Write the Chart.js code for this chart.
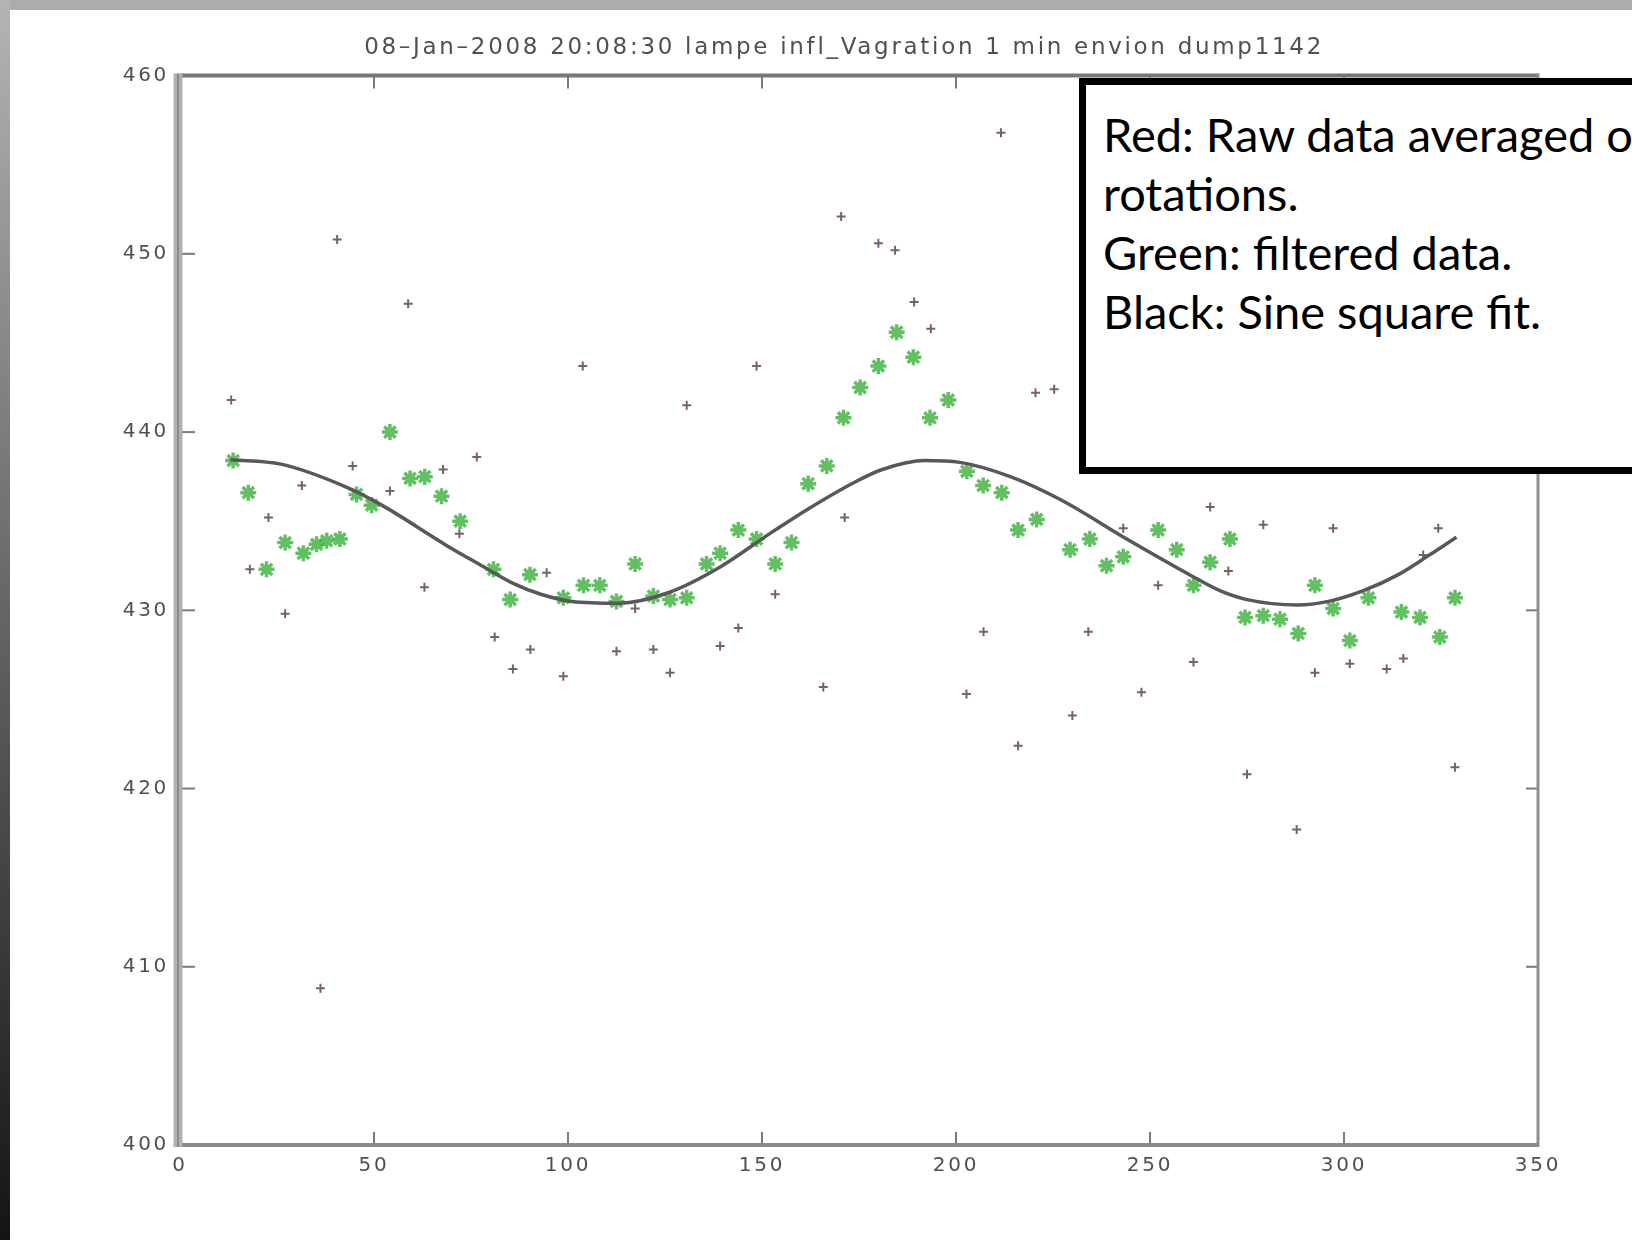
<!DOCTYPE html>
<html><head><meta charset="utf-8">
<script src="https://cdn.jsdelivr.net/npm/chart.js@4.4.1/dist/chart.umd.min.js"></script>
<style>
html,body{margin:0;padding:0;width:1632px;height:1240px;overflow:hidden;background:#fff;}
#topband{position:absolute;left:0;top:0;width:1632px;height:10px;background:#acacac;}
#leftband{position:absolute;left:0;top:0;width:10px;height:1240px;background:linear-gradient(#b4b4b4,#6c6c6c 45%,#141414);}
#wrap{position:absolute;left:0;top:0;width:1632px;height:1240px;}
#note{position:absolute;left:1079px;top:78px;width:700px;height:396px;box-sizing:border-box;border:7px solid #000;background:#fff;
 font-family:Lato,"Noto Sans",sans-serif;font-size:47px;line-height:59px;color:#000;padding:20px 0 0 17px;white-space:nowrap;}
</style></head>
<body>
<div id="topband"></div><div id="leftband"></div>
<div id="wrap"><canvas id="c" width="1632" height="1240"></canvas></div>
<div id="note">Red: Raw data averaged on<br>rotations.<br>Green: filtered data.<br>Black: Sine square fit.</div>
<script>
const titleText = "08\u2013Jan\u20132008 20:08:30 lampe infl_Vagration 1 min envion dump1142";
const titleIndent = 15; // leading spaces to shift the centred title over the axes
const xMin = 0, xMax = 350, xStep = 50;
const yMin = 400, yMax = 460, yStep = 10;

// Red: raw data averaged on rotations
const rawX = [13.2,18.0,22.8,27.1,31.4,36.2,40.5,44.5,54.1,58.8,63.0,67.8,72.0,76.5,81.1,85.8,90.3,94.5,98.8,103.8,112.5,117.3,122.0,126.3,130.6,139.2,143.9,148.6,153.4,165.8,170.4,171.3,180.0,184.3,189.2,193.5,202.7,207.1,211.6,216.0,220.5,225.3,230.0,234.1,243.1,247.8,252.1,261.2,265.5,270.2,275.0,279.2,287.8,292.5,297.2,301.5,311.0,315.3,320.4,324.3,328.6];
const rawY = [441.8,432.3,435.2,429.8,437.0,408.8,450.8,438.1,436.7,447.2,431.3,437.9,434.3,438.6,428.5,426.7,427.8,432.1,426.3,443.7,427.7,430.1,427.8,426.5,441.5,428.0,429.0,443.7,430.9,425.7,452.1,435.2,450.6,450.2,447.3,445.8,425.3,428.8,456.8,422.4,442.2,442.4,424.1,428.8,434.6,425.4,431.4,427.1,435.8,432.2,420.8,434.8,417.7,426.5,434.6,427.0,426.7,427.3,433.1,434.6,421.2];

// Green: filtered data
const filtX = [13.7,17.6,22.3,27.1,31.8,35.2,37.8,41.2,45.5,49.4,54.1,59.3,63.1,67.4,72.2,80.8,85.1,90.2,98.8,104.0,108.2,112.5,117.3,122.0,126.3,130.6,135.7,139.2,143.9,148.6,153.4,157.6,161.9,166.7,171.0,175.3,180.0,184.7,189.0,193.3,198.0,202.8,207.0,211.8,216.0,220.8,229.4,234.5,238.8,243.1,252.1,256.9,261.2,265.5,270.6,274.5,279.2,283.5,288.2,292.5,297.2,301.5,306.3,314.8,319.6,324.7,328.6];
const filtY = [438.4,436.6,432.3,433.8,433.2,433.7,433.9,434.0,436.5,435.9,440.0,437.4,437.5,436.4,435.0,432.3,430.6,432.0,430.7,431.4,431.4,430.5,432.6,430.8,430.6,430.7,432.6,433.2,434.5,434.0,432.6,433.8,437.1,438.1,440.8,442.5,443.7,445.6,444.2,440.8,441.8,437.8,437.0,436.6,434.5,435.1,433.4,434.0,432.5,433.0,434.5,433.4,431.4,432.7,434.0,429.6,429.7,429.5,428.7,431.4,430.1,428.3,430.7,429.9,429.6,428.5,430.7];

// Black: sine square fit
const fitX = [13,26,43,52,69,77,86,93,101,113,126,139,152,162,174,181,192,201,214,227,244,261,268,275,288,296,305,314,322,329];
const fitY = [438.45,438.2,436.9,435.9,433.6,432.6,431.5,430.9,430.5,430.4,431.0,432.4,434.3,435.7,437.2,437.9,438.4,438.3,437.5,436.2,434.0,431.9,431.1,430.6,430.3,430.5,431.1,432.0,433.1,434.1];

const pts = (xs, ys) => xs.map((v, i) => ({x: v, y: ys[i]}));

const spacingPlugin = {
  id: 'spacing',
  beforeDraw(chart) { chart.ctx.letterSpacing = '2.7px'; },
  afterDraw(chart) { chart.ctx.letterSpacing = '0px'; }
};

const framePlugin = {
  id: 'frame',
  afterDraw(chart) {
    const {ctx, chartArea: a, scales: {x, y}} = chart;
    const seg = (x1, y1, x2, y2) => { ctx.beginPath(); ctx.moveTo(x1, y1); ctx.lineTo(x2, y2); ctx.stroke(); };
    ctx.save();
    ctx.strokeStyle = '#7a7a7a'; ctx.lineWidth = 2;
    x.ticks.forEach(t => {
      if (t.value <= x.min || t.value >= x.max) return;
      const p = x.getPixelForValue(t.value);
      seg(p, a.top, p, a.top + 13);
      seg(p, a.bottom, p, a.bottom - 13);
    });
    y.ticks.forEach(t => {
      if (t.value <= y.min || t.value >= y.max) return;
      const p = y.getPixelForValue(t.value);
      seg(a.left, p, a.left + 15, p);
      seg(a.right, p, a.right - 12, p);
    });
    ctx.lineCap = 'butt';
    ctx.strokeStyle = '#777'; ctx.lineWidth = 4; seg(a.left, a.top, a.right + 1, a.top);
    ctx.strokeStyle = '#8a8a8a'; ctx.lineWidth = 4; seg(a.left, a.bottom, a.right + 1, a.bottom);
    ctx.strokeStyle = '#8e8e8e'; ctx.lineWidth = 3; seg(a.right, a.top - 2, a.right, a.bottom + 2);
    ctx.strokeStyle = '#b0b0b0'; ctx.lineWidth = 9; seg(a.left - 2, a.top - 2, a.left - 2, a.bottom + 2);
    ctx.strokeStyle = '#8c8c8c'; ctx.lineWidth = 2; seg(a.left - 2, a.top - 2, a.left - 2, a.bottom + 2);
    ctx.restore();
  }
};

new Chart(document.getElementById('c'), {
  type: 'scatter',
  data: {
    datasets: [
      {label: 'fit', data: pts(fitX, fitY), showLine: true, borderColor: '#585858', borderWidth: 3.5,
       pointRadius: 0, cubicInterpolationMode: 'monotone', order: 0},
      {label: 'filtered', data: pts(filtX, filtY), pointStyle: 'star', pointRadius: 8,
       borderColor: 'rgba(70,180,70,0.85)', backgroundColor: 'rgba(70,180,70,0.85)', pointBorderWidth: 3.5, order: 1},
      {label: 'raw', data: pts(rawX, rawY), pointStyle: 'cross', pointRadius: 4.5,
       borderColor: 'rgba(105,80,88,0.9)', backgroundColor: 'rgba(105,80,88,0.9)', pointBorderWidth: 2, order: 2}
    ]
  },
  options: {
    responsive: false, animation: false, devicePixelRatio: 1,
    layout: {padding: {left: 0, right: 94, top: 0, bottom: 0}},
    plugins: {
      legend: {display: false}, tooltip: {enabled: false},
      title: {display: true, text: ' '.repeat(titleIndent) + titleText, color: '#505050',
        font: {family: 'DejaVu Sans', size: 23, weight: 'normal'}, padding: {top: 34, bottom: 14}}
    },
    scales: {
      x: {type: 'linear', min: xMin, max: xMax,
        ticks: {stepSize: xStep, color: '#505050', font: {family: 'DejaVu Sans', size: 20}, padding: 1, maxRotation: 0},
        grid: {display: false}, border: {display: false},
        afterFit(s) { s.height = 95; }},
      y: {type: 'linear', min: yMin, max: yMax,
        ticks: {stepSize: yStep, color: '#505050', font: {family: 'DejaVu Sans', size: 20}, padding: 3},
        grid: {display: false}, border: {display: false},
        afterFit(s) { s.width = 180; }}
    }
  },
  plugins: [spacingPlugin, framePlugin]
});
</script>
</body></html>
